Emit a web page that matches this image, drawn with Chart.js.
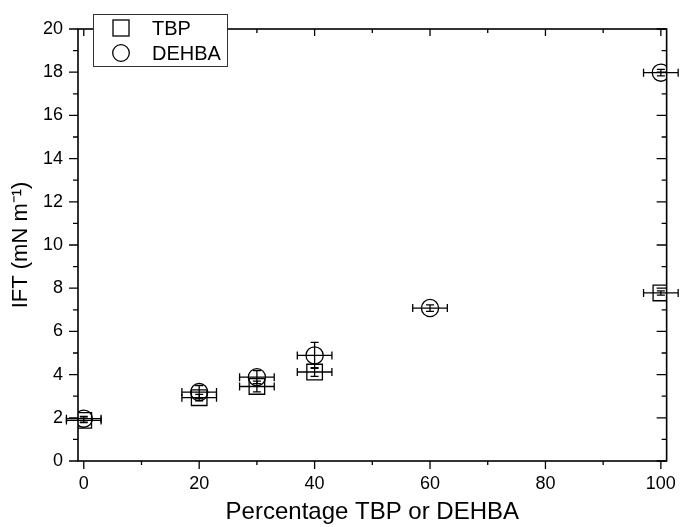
<!DOCTYPE html>
<html lang="en">
<head>
  <meta charset="UTF-8" />
  <title>IFT vs Percentage TBP or DEHBA</title>
  <script src="https://cdn.jsdelivr.net/npm/chart.js"></script>
  <style>
    html, body { margin: 0; padding: 0; background: #fff; }
    #wrap { width: 680px; height: 527px; }
  </style>
</head>
<body>
  <div id="wrap"><canvas id="iftChart" width="680" height="527"></canvas></div>

  <script>
    // data
    const tbpX = [0, 20, 30, 40, 100];
    const tbpY = [1.88, 2.93, 3.45, 4.12, 7.78];
    const tbpXErr = [3, 3, 3, 3, 3];
    const tbpYErr = [0.1, 0.15, 0.25, 0.2, 0.1];

    const dehbaX = [0, 20, 30, 40, 60, 100];
    const dehbaY = [1.96, 3.19, 3.88, 4.89, 7.08, 17.98];
    const dehbaXErr = [3, 3, 3, 3, 3, 3];
    const dehbaYErr = [0.1, 0.3, 0.3, 0.6, 0.15, 0.15];

    const xTicks = [0, 20, 40, 60, 80, 100];
    const xMinor = [10, 30, 50, 70, 90];
    const yTicks = [0, 2, 4, 6, 8, 10, 12, 14, 16, 18, 20];
    const yMinor = [1, 3, 5, 7, 9, 11, 13, 15, 17, 19];

    const FONT = "'Liberation Sans', Arial, sans-serif";

    const toPoints = (xs, ys) => xs.map((x, i) => ({ x: x, y: ys[i] }));

    // error bars, drawn through the chart scales
    const errorBars = {
      id: 'errorBars',
      afterDatasetsDraw(chart) {
        const ctx = chart.ctx;
        const sx = chart.scales.x, sy = chart.scales.y;
        const cap = 4;
        ctx.save();
        ctx.strokeStyle = '#000';
        ctx.lineWidth = 1.3;
        chart.data.datasets.forEach(ds => {
          ds.data.forEach((p, i) => {
            const px = sx.getPixelForValue(p.x), py = sy.getPixelForValue(p.y);
            const x0 = sx.getPixelForValue(p.x - ds.xErr[i]);
            const x1 = sx.getPixelForValue(p.x + ds.xErr[i]);
            const y0 = sy.getPixelForValue(p.y - ds.yErr[i]);
            const y1 = sy.getPixelForValue(p.y + ds.yErr[i]);
            ctx.beginPath();
            ctx.moveTo(x0, py); ctx.lineTo(x1, py);
            ctx.moveTo(x0, py - cap); ctx.lineTo(x0, py + cap);
            ctx.moveTo(x1, py - cap); ctx.lineTo(x1, py + cap);
            ctx.moveTo(px, y0); ctx.lineTo(px, y1);
            ctx.moveTo(px - cap, y0); ctx.lineTo(px + cap, y0);
            ctx.moveTo(px - cap, y1); ctx.lineTo(px + cap, y1);
            ctx.stroke();
          });
        });
        ctx.restore();
      }
    };

    // frame box with major/minor ticks on all four sides, then the legend
    const frameAndLegend = {
      id: 'frameAndLegend',
      afterDraw(chart) {
        const ctx = chart.ctx;
        const a = chart.chartArea;
        const sx = chart.scales.x, sy = chart.scales.y;
        ctx.save();
        ctx.strokeStyle = '#000';
        ctx.lineWidth = 1.6;
        ctx.strokeRect(a.left, a.top, a.right - a.left, a.bottom - a.top);

        ctx.lineWidth = 1.3;
        ctx.beginPath();
        const xt = (vals, bLen, tLen) => vals.forEach(v => {
          const px = sx.getPixelForValue(v);
          ctx.moveTo(px, a.bottom); ctx.lineTo(px, a.bottom + bLen);
          ctx.moveTo(px, a.top); ctx.lineTo(px, a.top + tLen);
        });
        const yt = (vals, lLen, rLen) => vals.forEach(v => {
          const py = sy.getPixelForValue(v);
          ctx.moveTo(a.left, py); ctx.lineTo(a.left - lLen, py);
          ctx.moveTo(a.right, py); ctx.lineTo(a.right - rLen, py);
        });
        xt(xTicks, 8, 7);
        xt(xMinor, 4, 4);
        yt(yTicks, 9, 10);
        yt(yMinor, 5, 5);
        ctx.stroke();

        // legend box
        const bx = 93, by = 14, bw = 134, bh = 52;
        ctx.fillStyle = '#fff';
        ctx.fillRect(bx, by, bw, bh);
        ctx.lineWidth = 1;
        ctx.strokeStyle = '#333';
        ctx.strokeRect(bx + 0.5, by + 0.5, bw, bh);

        ctx.strokeStyle = '#000';
        ctx.lineWidth = 1.3;
        ctx.strokeRect(113, 20, 16, 16);
        ctx.beginPath();
        ctx.arc(121, 53, 8.3, 0, Math.PI * 2);
        ctx.stroke();

        ctx.fillStyle = '#000';
        ctx.font = '20px ' + FONT;
        ctx.textBaseline = 'middle';
        ctx.textAlign = 'left';
        chart.data.datasets.forEach((ds, i) => {
          ctx.fillText(ds.label, 152, i === 0 ? 29 : 54);
        });
        ctx.restore();
      }
    };

    new Chart(document.getElementById('iftChart'), {
      type: 'scatter',
      data: {
        datasets: [
          {
            label: 'TBP',
            data: toPoints(tbpX, tbpY),
            xErr: tbpXErr,
            yErr: tbpYErr,
            pointStyle: 'rect',
            pointRadius: 11,
            borderColor: '#000',
            backgroundColor: 'rgba(0,0,0,0)',
            borderWidth: 1.3
          },
          {
            label: 'DEHBA',
            data: toPoints(dehbaX, dehbaY),
            xErr: dehbaXErr,
            yErr: dehbaYErr,
            pointStyle: 'circle',
            pointRadius: 8.6,
            borderColor: '#000',
            backgroundColor: 'rgba(0,0,0,0)',
            borderWidth: 1.3
          }
        ]
      },
      options: {
        responsive: false,
        devicePixelRatio: 1,
        animation: false,
        layout: { padding: { top: 29, right: 12, left: 0, bottom: 0 } },
        plugins: { legend: { display: false }, tooltip: { enabled: false } },
        scales: {
          x: {
            type: 'linear',
            position: 'bottom',
            min: -1,
            max: 101,
            afterBuildTicks: s => { s.ticks = xTicks.map(v => ({ value: v })); },
            afterFit: s => { s.height = 66; },
            grid: { display: false, drawTicks: true, tickLength: 8 },
            border: { display: false },
            ticks: { color: '#000', padding: 4, maxRotation: 0, font: { family: FONT, size: 18 } },
            title: {
              display: true,
              text: 'Percentage TBP or DEHBA',
              color: '#000',
              font: { family: FONT, size: 24 },
              padding: { top: 0, bottom: 0 }
            }
          },
          y: {
            type: 'linear',
            min: 0,
            max: 20,
            afterBuildTicks: s => { s.ticks = yTicks.map(v => ({ value: v })); },
            afterFit: s => { s.width = 78; },
            grid: { display: false, drawTicks: true, tickLength: 8 },
            border: { display: false },
            ticks: { color: '#000', padding: 7, font: { family: FONT, size: 18 } },
            title: {
              display: true,
              text: 'IFT (mN m\u207B\u00B9)',
              color: '#000',
              font: { family: FONT, size: 22 },
              padding: { top: 8, bottom: 0 }
            }
          }
        }
      },
      plugins: [errorBars, frameAndLegend]
    });
  </script>
</body>
</html>
